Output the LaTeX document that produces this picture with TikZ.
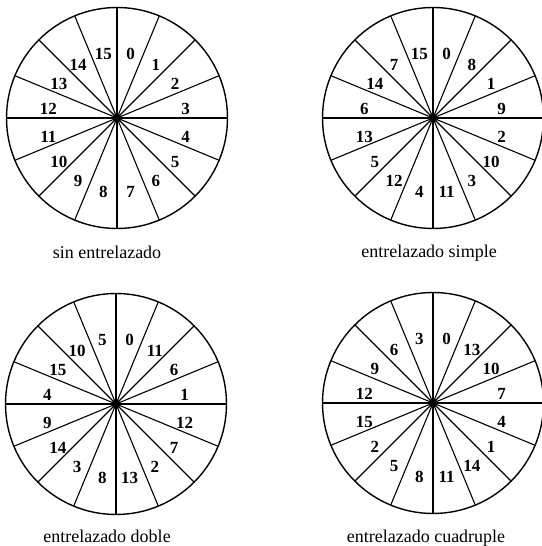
\documentclass[tikz,border=0pt]{standalone}
\usepackage{fontspec}
\setmainfont{Liberation Serif}
\usetikzlibrary{positioning}

% one disc: name, centre, numbers clockwise from the top, caption, caption position
\newcommand{\drawdisc}[5]{%
  \coordinate (#1) at (#2);
  \draw[rim] (#1) circle (110.5);
  \foreach \k in {0,...,15}
    \draw[spoke] (#1) -- ++(90-22.5*\k:110.5);
  \fill (#1) circle (4.5);
  \foreach \n [count=\k from 0] in {#3}
    \path (#1) ++(78.75-22.5*\k:70) ++(0,-5) node[num] (#1-\k) {\n};
  \node[caption] (#1-cap) at (#5) {#4};
}

\begin{document}
\begin{tikzpicture}[
  x=1pt,y=1pt,
  rim/.style={line width=1.4pt,black},
  spoke/.style={line width=1.1pt,black},
  num/.style={font=\fontsize{17}{17}\selectfont\bfseries,inner sep=0pt},
  caption/.style={font=\fontsize{18}{18}\selectfont,inner sep=0pt,anchor=base}]
  \useasboundingbox (0,0) rectangle (541,546);
  \drawdisc{sin}{117,428}{0,1,2,3,4,5,6,7,8,9,10,11,12,13,14,15}{sin entrelazado}{107,287}
  \drawdisc{simple}{433,428}{0,8,1,9,2,10,3,11,4,12,5,13,6,14,7,15}{entrelazado simple}{429,288}
  % bottom row
  \drawdisc{doble}{116,142}{0,11,6,1,12,7,2,13,8,3,14,9,4,15,10,5}{entrelazado doble}{107,4}
  \drawdisc{cuad}{433,143}{0,13,10,7,4,1,14,11,8,5,2,15,12,9,6,3}{entrelazado cuadruple}{426,4}
\end{tikzpicture}
\end{document}
